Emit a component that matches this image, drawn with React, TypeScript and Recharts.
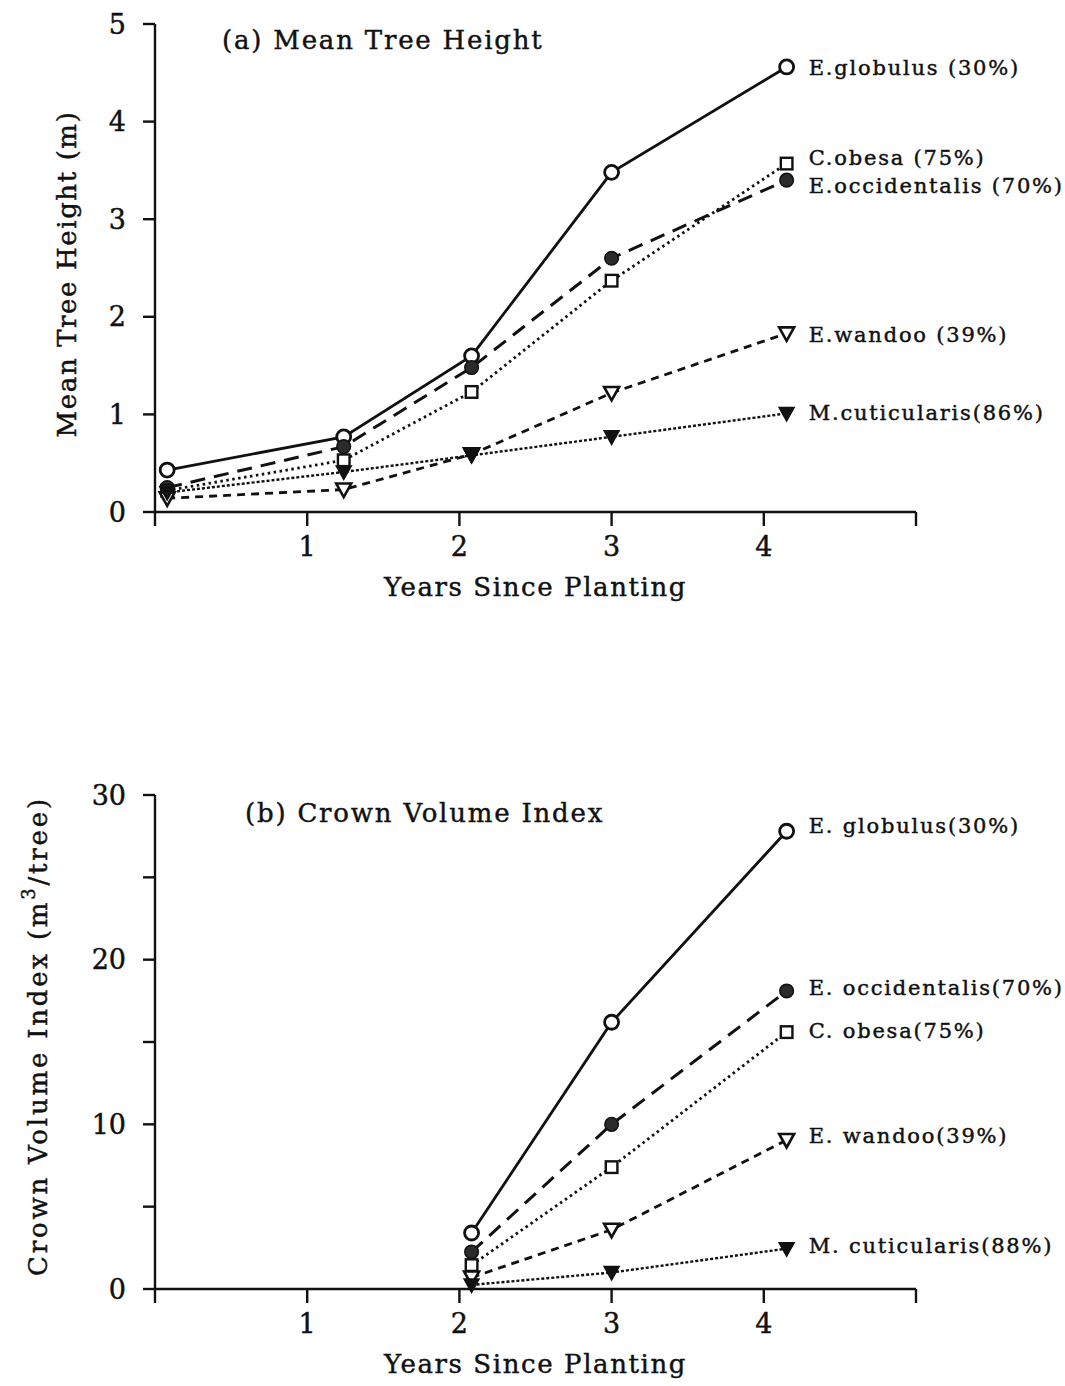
import React from 'react';
import { LineChart, Line, XAxis, YAxis, LabelList, Label } from 'recharts';

// Sampling times (years since planting)
const yearsHeight = [0.08, 1.24, 2.08, 3.0, 4.15];
const yearsCrown = [2.08, 3.0, 4.15];

// (a) Mean tree height (m)
const heightGlobulus = [0.43, 0.77, 1.6, 3.48, 4.56];
const heightObesa = [0.22, 0.53, 1.23, 2.37, 3.57];
const heightOccidentalis = [0.25, 0.67, 1.48, 2.6, 3.4];
const heightWandoo = [0.14, 0.23, 0.59, 1.22, 1.83];
const heightCuticularis = [0.2, 0.41, 0.58, 0.77, 1.01];

// (b) Crown volume index (m3/tree)
const crownGlobulus = [3.4, 16.2, 27.8];
const crownOccidentalis = [2.25, 10.0, 18.1];
const crownObesa = [1.45, 7.4, 15.6];
const crownWandoo = [0.7, 3.6, 9.05];
const crownCuticularis = [0.25, 1.0, 2.45];

// End-of-line species labels
const labelsHeight = {
  globulus: 'E.globulus (30%)',
  obesa: 'C.obesa (75%)',
  occidentalis: 'E.occidentalis (70%)',
  wandoo: 'E.wandoo (39%)',
  cuticularis: 'M.cuticularis(86%)',
};
const labelsCrown = {
  globulus: 'E. globulus(30%)',
  occidentalis: 'E. occidentalis(70%)',
  obesa: 'C. obesa(75%)',
  wandoo: 'E. wandoo(39%)',
  cuticularis: 'M. cuticularis(88%)',
};

const xTicks = [0, 1, 2, 3, 4, 5];
const xTickLabels = [1, 2, 3, 4];
const yTicksHeight = [0, 1, 2, 3, 4, 5];
const yTicksCrown = [0, 5, 10, 15, 20, 25, 30];
const yTickLabelsCrown = [0, 10, 20, 30];

const FONT = '"DejaVu Serif", "Liberation Serif", serif';
const INK = '#111';
// slight outline so the type reads as heavy as printed text
const TEXT_STROKE = { stroke: INK, strokeWidth: 0.45 };

type Marker = 'openCircle' | 'filledCircle' | 'openSquare' | 'openTri' | 'filledTri';

const toPoints = (xs: number[], ys: number[]) => xs.map((x, i) => ({ x, y: ys[i] }));

function renderMarker(shape: Marker) {
  return (props: any) => {
    const { cx, cy, index } = props;
    if (cx == null || cy == null) return <g key={index} />;
    switch (shape) {
      case 'openCircle':
        return <circle key={index} cx={cx} cy={cy} r={7} fill="#fff" stroke={INK} strokeWidth={2.8} />;
      case 'filledCircle':
        return <circle key={index} cx={cx} cy={cy} r={6.8} fill="#2b2b2b" stroke={INK} strokeWidth={1.5} />;
      case 'openSquare':
        return <rect key={index} x={cx - 5.8} y={cy - 5.8} width={11.6} height={11.6} fill="#fff" stroke={INK} strokeWidth={2.4} />;
      case 'openTri':
        return (
          <polygon key={index} points={`${cx - 7.5},${cy - 6} ${cx + 7.5},${cy - 6} ${cx},${cy + 7.5}`}
            fill="#fff" stroke={INK} strokeWidth={2.6} />
        );
      case 'filledTri':
      default:
        return (
          <polygon key={index} points={`${cx - 7.5},${cy - 6} ${cx + 7.5},${cy - 6} ${cx},${cy + 7.5}`}
            fill={INK} stroke={INK} strokeWidth={1.5} />
        );
    }
  };
}

interface SeriesDef {
  id: string;
  data: { x: number; y: number }[];
  dash?: string;
  width: number;
  marker: Marker;
  label: string;
  dy: number;
}

function endLabel(text: string, count: number, dy: number) {
  return (props: any) => {
    const { x, y, index } = props;
    if (index !== count - 1) return null;
    return (
      <text x={x + 22} y={y + dy} dominantBaseline="central" fontFamily={FONT} fontSize={21}
        letterSpacing={1.8} fill={INK} {...TEXT_STROKE}>
        {text}
      </text>
    );
  };
}

function renderSeries(list: SeriesDef[]) {
  return list.map((s) => (
    <Line
      key={s.id}
      data={s.data}
      dataKey="y"
      type="linear"
      stroke={INK}
      strokeWidth={s.width}
      strokeDasharray={s.dash}
      dot={renderMarker(s.marker)}
      activeDot={false}
      isAnimationActive={false}
    >
      <LabelList dataKey="y" content={endLabel(s.label, s.data.length, s.dy)} />
    </Line>
  ));
}

const xTick = (props: any) => {
  const { x, y, payload } = props;
  if (!xTickLabels.includes(payload.value)) return <g />;
  return (
    <text x={x} y={y} dy="0.71em" textAnchor="middle" fontFamily={FONT} fontSize={27} fill={INK} {...TEXT_STROKE}>
      {payload.value}
    </text>
  );
};

const yTick = (shown: number[]) => (props: any) => {
  const { x, y, payload } = props;
  if (!shown.includes(payload.value)) return <g />;
  return (
    <text x={x} y={y} dominantBaseline="central" textAnchor="end" fontFamily={FONT} fontSize={27}
      fill={INK} {...TEXT_STROKE}>
      {payload.value}
    </text>
  );
};

const xTitle = (props: any) => {
  const vb = props.viewBox;
  return (
    <text x={vb.x + vb.width / 2} y={vb.y + 84} textAnchor="middle" fontFamily={FONT} fontSize={26}
      letterSpacing={1.6} fill={INK} {...TEXT_STROKE}>
      Years Since Planting
    </text>
  );
};

const yTitleHeight = (props: any) => {
  const vb = props.viewBox;
  const cx = vb.x + 21;
  const cy = vb.y + vb.height / 2 + 6;
  return (
    <text x={cx} y={cy} transform={`rotate(-90 ${cx} ${cy})`} textAnchor="middle" fontFamily={FONT}
      fontSize={26} letterSpacing={1.6} fill={INK} {...TEXT_STROKE}>
      Mean Tree Height (m)
    </text>
  );
};

const yTitleCrown = (props: any) => {
  const vb = props.viewBox;
  const cx = vb.x - 8;
  const cy = vb.y + vb.height / 2 - 6;
  return (
    <text x={cx} y={cy} transform={`rotate(-90 ${cx} ${cy})`} textAnchor="middle" fontFamily={FONT}
      fontSize={26} letterSpacing={2.8} fill={INK} {...TEXT_STROKE}>
      Crown Volume Index (m
      <tspan fontSize={18} dy={-12}>3</tspan>
      <tspan dy={12}>/tree)</tspan>
    </text>
  );
};

const heightSeries: SeriesDef[] = [
  { id: 'globulus', data: toPoints(yearsHeight, heightGlobulus), width: 2.8, marker: 'openCircle', label: labelsHeight.globulus, dy: 1 },
  { id: 'occidentalis', data: toPoints(yearsHeight, heightOccidentalis), dash: '15 9', width: 3, marker: 'filledCircle', label: labelsHeight.occidentalis, dy: 6 },
  { id: 'obesa', data: toPoints(yearsHeight, heightObesa), dash: '2.5 3.5', width: 2.8, marker: 'openSquare', label: labelsHeight.obesa, dy: -6 },
  { id: 'wandoo', data: toPoints(yearsHeight, heightWandoo), dash: '8 6', width: 2.8, marker: 'openTri', label: labelsHeight.wandoo, dy: 2 },
  { id: 'cuticularis', data: toPoints(yearsHeight, heightCuticularis), dash: '3 2', width: 2.4, marker: 'filledTri', label: labelsHeight.cuticularis, dy: 0 },
];

const crownSeries: SeriesDef[] = [
  { id: 'globulus', data: toPoints(yearsCrown, crownGlobulus), width: 2.8, marker: 'openCircle', label: labelsCrown.globulus, dy: -5 },
  { id: 'occidentalis', data: toPoints(yearsCrown, crownOccidentalis), dash: '15 9', width: 3, marker: 'filledCircle', label: labelsCrown.occidentalis, dy: -3 },
  { id: 'obesa', data: toPoints(yearsCrown, crownObesa), dash: '2.5 3.5', width: 2.8, marker: 'openSquare', label: labelsCrown.obesa, dy: -1 },
  { id: 'wandoo', data: toPoints(yearsCrown, crownWandoo), dash: '8 6', width: 2.8, marker: 'openTri', label: labelsCrown.wandoo, dy: -4 },
  { id: 'cuticularis', data: toPoints(yearsCrown, crownCuticularis), dash: '3 2', width: 2.4, marker: 'filledTri', label: labelsCrown.cuticularis, dy: -3 },
];

const axisStroke = { stroke: INK, strokeWidth: 2.4 };

const titleStyle: React.CSSProperties = {
  position: 'absolute',
  fontFamily: FONT,
  fontSize: 26,
  lineHeight: '26px',
  letterSpacing: 1.8,
  color: INK,
  whiteSpace: 'nowrap',
  WebkitTextStroke: '0.45px #111',
};

export default function App() {
  return (
    <div style={{ position: 'absolute', left: 0, top: 0, width: 1065, height: 1386, background: '#fff', overflow: 'hidden' }}>
      <div style={{ position: 'absolute', left: 0, top: 0 }}>
        <LineChart width={1065} height={660} margin={{ top: 24, right: 149, bottom: 58, left: 55 }}>
          <XAxis type="number" dataKey="x" domain={[0, 5]} ticks={xTicks} allowDuplicatedCategory={false}
            height={90} tickSize={14} tickMargin={11} axisLine={axisStroke} tickLine={axisStroke} tick={xTick}>
            <Label content={xTitle} />
          </XAxis>
          <YAxis type="number" dataKey="y" domain={[0, 5]} ticks={yTicksHeight} width={100} tickSize={12}
            tickMargin={17} axisLine={axisStroke} tickLine={axisStroke} tick={yTick(yTicksHeight)}>
            <Label content={yTitleHeight} />
          </YAxis>
          {renderSeries(heightSeries)}
        </LineChart>
      </div>
      <div style={{ ...titleStyle, left: 222, top: 27 }}>(a) Mean Tree Height</div>

      <div style={{ position: 'absolute', left: 0, top: 700 }}>
        <LineChart width={1065} height={686} margin={{ top: 95, right: 149, bottom: 7, left: 55 }}>
          <XAxis type="number" dataKey="x" domain={[0, 5]} ticks={xTicks} allowDuplicatedCategory={false}
            height={90} tickSize={14} tickMargin={11} axisLine={axisStroke} tickLine={axisStroke} tick={xTick}>
            <Label content={xTitle} />
          </XAxis>
          <YAxis type="number" dataKey="y" domain={[0, 30]} ticks={yTicksCrown} width={100} tickSize={12}
            tickMargin={17} axisLine={axisStroke} tickLine={axisStroke} tick={yTick(yTickLabelsCrown)}>
            <Label content={yTitleCrown} />
          </YAxis>
          {renderSeries(crownSeries)}
        </LineChart>
      </div>
      <div style={{ ...titleStyle, left: 245, top: 800 }}>(b) Crown Volume Index</div>
    </div>
  );
}
